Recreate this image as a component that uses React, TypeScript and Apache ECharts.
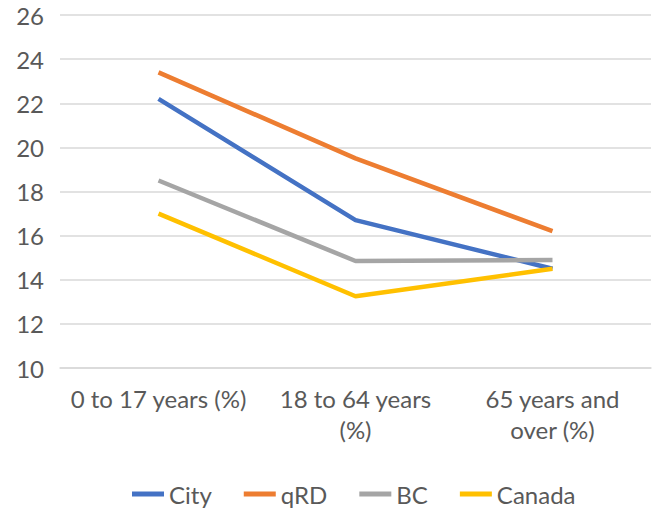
import React, { useEffect, useRef } from "react";
import * as echarts from "echarts";

const categories = ["0 to 17 years (%)", "18 to 64 years\n(%)", "65 years and\nover (%)"];
const city = [22.2, 16.7, 14.5];
const qrd = [23.4, 19.5, 16.2];
const bc = [18.5, 14.85, 14.9];
const canada = [17.0, 13.25, 14.5];
const seriesNames = ["City", "qRD", "BC", "Canada"];
const colors = ["#4472C4", "#ED7D31", "#A5A5A5", "#FFC000"];

export default function App() {
  const ref = useRef<HTMLDivElement>(null);
  useEffect(() => {
    document.body.style.margin = "0";
    const chart = echarts.init(ref.current!, null, { renderer: "svg" });
    const font = "Lato, 'Noto Sans', sans-serif";
    const data = [city, qrd, bc, canada];
    chart.setOption({
      animation: false,
      color: colors,
      textStyle: { fontFamily: font },
      grid: { left: 60, right: 4, top: 15, bottom: 147, containLabel: false },
      legend: {
        bottom: 4,
        left: 127,
        itemWidth: 32,
        itemHeight: 5,
        itemGap: 32,
        icon: "rect",
        textStyle: { fontSize: 24, color: "#595959", fontFamily: font },
        data: seriesNames,
      },
      xAxis: {
        type: "category",
        data: categories,
        boundaryGap: true,
        axisLine: { show: true, lineStyle: { color: "#d9d9d9", width: 1.5 } },
        axisTick: { show: false },
        axisLabel: {
          color: "#595959",
          fontSize: 24,
          fontFamily: font,
          margin: 15,
          lineHeight: 31,
          interval: 0,
        },
      },
      yAxis: {
        type: "value",
        min: 10,
        max: 26,
        interval: 2,
        axisLine: { show: false },
        axisTick: { show: false },
        splitLine: { lineStyle: { color: "#d9d9d9", width: 1.5 } },
        axisLabel: { color: "#595959", fontSize: 24, fontFamily: font, margin: 16 },
      },
      series: seriesNames.map((n, i) => ({
        name: n,
        type: "line",
        data: data[i],
        symbol: "none",
        lineStyle: { width: 4.5, color: colors[i] },
        itemStyle: { color: colors[i] },
      })),
    });
    return () => chart.dispose();
  }, []);
  return <div ref={ref} style={{ width: 655, height: 515, position: "absolute", left: 0, top: 0 }} />;
}
